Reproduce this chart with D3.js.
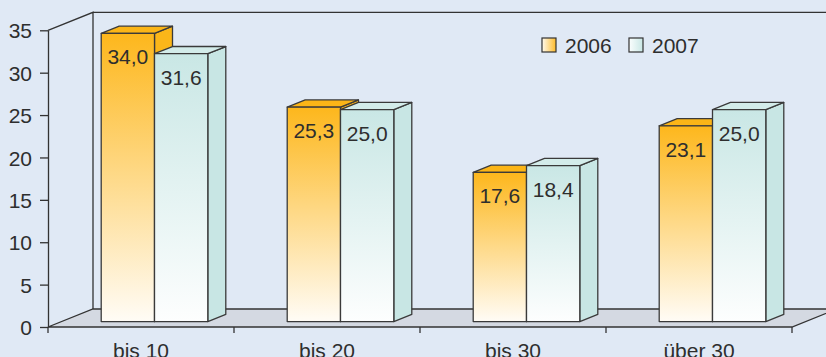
<!DOCTYPE html>
<html>
<head>
<meta charset="utf-8">
<script src="https://cdn.jsdelivr.net/npm/d3@7"></script>
<style>
	body { margin: 0; background: #e0e9f5; }
	svg text { font-family: 'Liberation Sans', Arial, sans-serif; font-size: 21px; fill: #2e2e2e; }
	.axis .domain, .axis line { stroke: #333; stroke-width: 1.3; }
	.edge { stroke: #333; stroke-width: 1.3; fill: none; }
	.bar path { stroke: #3a3a3a; stroke-width: 1.3; stroke-linejoin: round; }
</style>
</head>
<body>
<div id="chart"></div>
<script>
// data
var categories = ['bis 10', 'bis 20', 'bis 30', 'über 30'];
var series     = ['2006', '2007'];
var values2006 = [34.0, 25.3, 17.6, 23.1];
var values2007 = [31.6, 25.0, 18.4, 25.0];
var yTicks     = [0, 5, 10, 15, 20, 25, 30, 35];

function Bars3D(config) {
	var me = this;
	me.width   = 826;
	me.height  = 357;
	me.left    = 48;
	me.right   = 792;
	me.floorY  = 327;
	me.topY    = 30.3;
	me.depthX  = 45;   // depth of the floor, screen offset
	me.depthY  = 18;
	me.zFront  = 0.3;  // bars sit in the middle of the floor
	me.zBack   = 0.7;
	me.parentNode = d3.select('#' + config.parentId);
	me.init();
}

Bars3D.prototype.init = function() {
	var me = this;

	me.svg = me.parentNode.append('svg')
		.attr('width', me.width)
		.attr('height', me.height);

	me.yScale = d3.scaleLinear()
		.domain([0, 35])
		.range([me.floorY, me.topY]);

	me.xScale = d3.scaleBand()
		.domain(categories)
		.range([me.left, me.right]);

	me.sScale = d3.scaleBand()
		.domain(series)
		.range([0, me.xScale.bandwidth()])
		.paddingOuter(0.745);

	me.defs = me.svg.append('defs');
	me.makeGradient('g2006', '#fdb71c', '#fffcf6', true);
	me.makeGradient('g2007', '#c9e7e5', '#fdfefe', true);
	me.makeGradient('l2006', '#fffaf0', '#fdbb2a', false);
	me.makeGradient('l2007', '#fbfefe', '#c9e7e5', false);

	me.drawBox();
	me.drawAxes();
	me.drawBars();
	me.drawLegend();
}

Bars3D.prototype.makeGradient = function(id, c1, c2, vertical) {
	var g = this.defs.append('linearGradient')
		.attr('id', id)
		.attr('x1', 0).attr('y1', 0)
		.attr('x2', vertical ? 0 : 1)
		.attr('y2', vertical ? 1 : 0);
	g.append('stop').attr('offset', '0%').attr('stop-color', c1);
	g.append('stop').attr('offset', '100%').attr('stop-color', c2);
}

// x on the front plane, value, depth 0..1 -> screen point
Bars3D.prototype.proj = function(x, v, z) {
	return [x + z * this.depthX, this.yScale(v) - z * this.depthY];
}

Bars3D.prototype.drawBox = function() {
	var me = this;
	var line = d3.line();
	var p = function(x, v, z) { return me.proj(x, v, z); };

	// floor
	me.svg.append('path')
		.attr('d', line([p(me.left, 0, 0), p(me.right, 0, 0), p(me.right, 0, 1), p(me.left, 0, 1)]) + 'Z')
		.attr('fill', '#d4d9e2')
		.attr('stroke', '#333')
		.attr('stroke-width', 1.3);

	// side and back walls
	me.svg.append('path')
		.attr('class', 'edge')
		.attr('d', line([p(me.left, 35, 0), p(me.left, 35, 1), p(me.left, 0, 1)]));
	me.svg.append('path')
		.attr('class', 'edge')
		.attr('d', line([p(me.left, 35, 1), p(me.right, 35, 1)]));
}

Bars3D.prototype.drawAxes = function() {
	var me = this;

	var yAxis = d3.axisLeft(me.yScale)
		.tickValues(yTicks)
		.tickSize(8)
		.tickSizeOuter(0)
		.tickPadding(8);

	var ya = me.svg.append('g')
		.attr('class', 'axis')
		.attr('transform', 'translate(' + me.left + ',0)')
		.call(yAxis);
	ya.attr('font-family', null).attr('font-size', null);
	ya.selectAll('text').attr('dy', '0.36em');

	// category boundaries
	var bounds = categories.map(function(c) { return me.xScale(c); }).concat([me.right]);
	me.svg.append('g')
		.selectAll('line')
		.data(bounds)
		.enter().append('line')
		.attr('class', 'edge')
		.attr('x1', function(d) { return d; })
		.attr('x2', function(d) { return d; })
		.attr('y1', me.floorY)
		.attr('y2', me.floorY + 6);

	me.svg.append('g')
		.selectAll('text')
		.data(categories)
		.enter().append('text')
		.attr('x', function(d) { return me.xScale(d) + me.xScale.bandwidth() / 2; })
		.attr('y', me.height + 1)
		.attr('text-anchor', 'middle')
		.text(function(d) { return d; });
}

Bars3D.prototype.drawBars = function() {
	var me = this;
	var line = d3.line();
	var fmt = function(v) { return d3.format('.1f')(v).replace('.', ','); };
	var sides = { '2006': '#fbb619', '2007': '#c8e6e4' };
	var tops  = { '2006': '#fbb517', '2007': '#d3ecea' };

	categories.forEach(function(c, i) {
		var vals = { '2006': values2006[i], '2007': values2007[i] };
		series.forEach(function(s) {
			var v  = vals[s];
			var x0 = me.xScale(c) + me.sScale(s);
			var x1 = x0 + me.sScale.bandwidth();
			var zf = me.zFront, zb = me.zBack;
			var g  = me.svg.append('g').attr('class', 'bar');

			g.append('path')
				.attr('d', line([me.proj(x1, 0, zf), me.proj(x1, v, zf), me.proj(x1, v, zb), me.proj(x1, 0, zb)]) + 'Z')
				.attr('fill', sides[s]);
			g.append('path')
				.attr('d', line([me.proj(x0, v, zf), me.proj(x1, v, zf), me.proj(x1, v, zb), me.proj(x0, v, zb)]) + 'Z')
				.attr('fill', tops[s]);
			g.append('path')
				.attr('d', line([me.proj(x0, 0, zf), me.proj(x0, v, zf), me.proj(x1, v, zf), me.proj(x1, 0, zf)]) + 'Z')
				.attr('fill', 'url(#g' + s + ')');

			var top = me.proj(x0, v, zf);
			g.append('text')
				.attr('x', top[0] + me.sScale.bandwidth() / 2)
				.attr('y', top[1] + 31)
				.attr('text-anchor', 'middle')
				.text(fmt(v));
		});
	});
}

Bars3D.prototype.drawLegend = function() {
	var me = this;
	var pos = [542, 629];

	var item = me.svg.append('g')
		.selectAll('g')
		.data(series)
		.enter().append('g')
		.attr('transform', function(d, i) { return 'translate(' + pos[i] + ',38)'; });
	item.append('rect')
		.attr('width', 14)
		.attr('height', 14)
		.attr('fill', function(d) { return 'url(#l' + d + ')'; })
		.attr('stroke', '#333')
		.attr('stroke-width', 1.2);
	item.append('text')
		.attr('x', 23)
		.attr('y', 15)
		.text(function(d) { return d; });
}

new Bars3D({ parentId: 'chart' });
</script>
</body>
</html>
